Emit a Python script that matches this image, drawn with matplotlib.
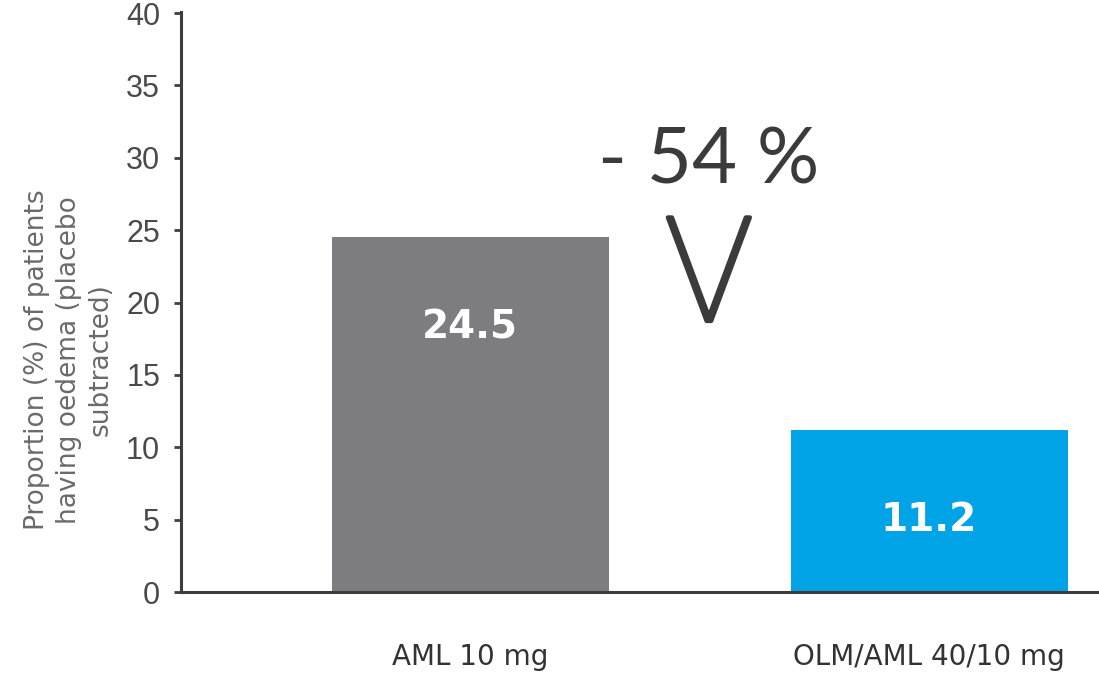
"""
Bar chart: proportion of patients with oedema, AML vs OLM/AML.
"""
import matplotlib
matplotlib.use('Agg')
import matplotlib.pyplot as plt
import matplotlib.patheffects as pe

CATEGORIES = ['AML 10 mg', 'OLM/AML 40/10 mg']
VALUES = [24.5, 11.2]
BAR_COLORS = ['#7d7d81', '#00a3e6']
Y_TICKS = [0, 5, 10, 15, 20, 25, 30, 35, 40]
Y_LABEL = 'Proportion (%) of patients\nhaving oedema (placebo\nsubtracted)'
REDUCTION = '- 54 %'

AXIS_COLOR = '#3d3d3d'
TEXT_COLOR = '#4a4a4a'
NOTE_COLOR = '#3b3b3b'

fig = plt.figure(figsize=(10.99, 6.73), dpi=100)
ax = fig.add_axes([181 / 1099, 1 - 592 / 673, 1 - 181 / 1099, (592 - 12) / 673])

x = list(range(len(CATEGORIES)))
ax.bar(x, VALUES, width=0.604, color=BAR_COLORS, zorder=2)

# value labels inside the bars, a fixed distance below the top
for xi, v in zip(x, VALUES):
  ax.text(xi, v - 6.2, '{:.1f}'.format(v), ha='center', va='center',
          color='white', fontsize=28, fontweight='bold', zorder=3)

ax.set_xlim(-0.63, 1.37)
ax.set_ylim(0, 40.07)
ax.set_yticks(Y_TICKS)
ax.set_xticks(x)
ax.set_xticklabels(CATEGORIES, family='DejaVu Sans')
for lbl in ax.get_yticklabels():
  lbl.set_family('Liberation Sans')

for side in ['top', 'right']:
  ax.spines[side].set_visible(False)
for side in ['left', 'bottom']:
  ax.spines[side].set_color(AXIS_COLOR)
  ax.spines[side].set_linewidth(2.2)

ax.tick_params(axis='y', direction='out', length=5, width=2, color=AXIS_COLOR,
               labelcolor=TEXT_COLOR, labelsize=22, pad=10)
ax.tick_params(axis='x', length=0, labelcolor='#333333', labelsize=20, pad=37)

ax.set_ylabel(Y_LABEL, fontsize=19, color='#6a6a6a', linespacing=1.3,
              family='DejaVu Sans')
ax.yaxis.set_label_coords(-0.073, 0.40)

# reduction annotation between the bars
ax.text(0.52, 29.7, REDUCTION, ha='center', va='center', fontsize=56,
        color=NOTE_COLOR, family='Lato')
ax.text(0.52, 21.5, 'V', ha='center', va='center', fontsize=105,
        color=NOTE_COLOR, family='Roboto', fontweight='light',
        path_effects=[pe.withStroke(linewidth=3, foreground=NOTE_COLOR)])

fig.savefig('out.png', dpi=100)
